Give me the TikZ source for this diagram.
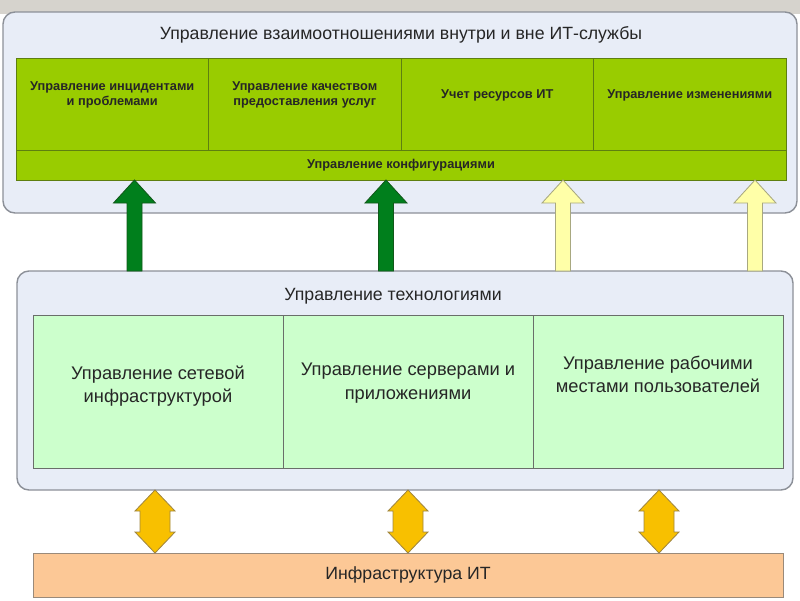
\documentclass[tikz,border=0pt]{standalone}
\usepackage{fontspec}
\setmainfont{Liberation Sans}
\usetikzlibrary{calc,positioning}
\definecolor{stripgray}{HTML}{D6D3CD}
\definecolor{framefill}{HTML}{E8EDF7}
\definecolor{framedraw}{HTML}{8C9098}
\definecolor{procfill}{HTML}{99CC00}
\definecolor{procdraw}{HTML}{5E7F10}
\definecolor{techfill}{HTML}{CCFFCC}
\definecolor{techdraw}{HTML}{6A6E6A}
\definecolor{infrafill}{HTML}{FCC896}
\definecolor{infradraw}{HTML}{9A8A7A}
\definecolor{upgreen}{HTML}{007F1C}
\definecolor{upgreendraw}{HTML}{11581A}
\definecolor{upyellow}{HTML}{FFFFA8}
\definecolor{upyellowdraw}{HTML}{A8A880}
\definecolor{bothgold}{HTML}{F8C000}
\definecolor{bothgolddraw}{HTML}{A08640}
\def\u{0.025cm}
\tikzset{
  frame/.style={draw=framedraw, fill=framefill, line width=1pt, rounded corners=12*\u,
    inner sep=0pt, outer sep=0pt},
  proc/.style={draw=procdraw, fill=procfill, line width=0.7pt, inner sep=0pt, outer sep=0pt,
    minimum width=192.5*\u, minimum height=92*\u},
  tech/.style={draw=techdraw, fill=techfill, line width=0.7pt, inner sep=0pt, outer sep=0pt,
    minimum width=250*\u, minimum height=153*\u},
  ttl/.style={font=\fontsize{12.6}{15}\selectfont, text=black!85},
  proctxt/.style={font=\fontsize{9.1}{10.2}\selectfont\bfseries, align=center, text=black!85},
  techtxt/.style={font=\fontsize{13}{16.5}\selectfont, align=center, text=black!85},
  upg/.style={draw=upgreendraw, fill=upgreen, line width=0.6pt, line join=miter},
  upy/.style={draw=upyellowdraw, fill=upyellow, line width=0.6pt, line join=miter},
  both/.style={draw=bothgolddraw, fill=bothgold, line width=0.6pt, line join=miter}
}
\newcommand{\fatup}[4]{%
  \draw[#4] ($(#2.north -| #1)+(-7.5,0)$) -- ($(#3.south -| #1)+(-7.5,23)$)
    -- ($(#3.south -| #1)+(-21,23)$) -- (#3.south -| #1)
    -- ($(#3.south -| #1)+(21,23)$) -- ($(#3.south -| #1)+(7.5,23)$)
    -- ($(#2.north -| #1)+(7.5,0)$) -- cycle;}
\newcommand{\fatboth}[4]{%
  \draw[#4] (#2.south -| #1) -- ($(#2.south -| #1)+(20,21)$) -- ($(#2.south -| #1)+(15,21)$)
    -- ($(#3.north -| #1)+(15,-21)$) -- ($(#3.north -| #1)+(20,-21)$) -- (#3.north -| #1)
    -- ($(#3.north -| #1)+(-20,-21)$) -- ($(#3.north -| #1)+(-15,-21)$)
    -- ($(#2.south -| #1)+(-15,21)$) -- ($(#2.south -| #1)+(-20,21)$) -- cycle;}
\begin{document}
\begin{tikzpicture}[x=\u, y=-\u]
\useasboundingbox (0,0) rectangle (800,600);
\fill[stripgray] (0,0) rectangle (800,14);
\node[frame, minimum width=794*\u, minimum height=201*\u] (rel) at (400,112.5) {};
\node[ttl] (reltitle) at (401,35) {Управление взаимоотношениями внутри и вне ИТ-службы};
\node[proc] (inc) at (112.25,104) {};
\node[proc, right=0pt of inc] (sla) {};
\node[proc, right=0pt of sla] (res) {};
\node[proc, right=0pt of res] (chg) {};
\node[proc, minimum width=770*\u, minimum height=30*\u, below=0pt of inc.south west, anchor=north west] (cfg) {};
\node[proctxt] at ([yshift=9*\u]inc.center) {Управление инцидентами\\и проблемами};
\node[proctxt] at ([yshift=9*\u]sla.center) {Управление качеством\\предоставления услуг};
\node[proctxt] at ([yshift=9*\u]res.center) {Учет ресурсов ИТ};
\node[proctxt] at ([yshift=9*\u]chg.center) {Управление изменениями};
\node[proctxt] at (cfg.center) {Управление конфигурациями};
\node[frame, minimum width=776*\u, minimum height=219*\u] (techfr) at (405,380.5) {};
\node[ttl] (techtitle) at (393,296) {Управление технологиями};
\node[tech] (net) at (158,392) {};
\node[tech, right=0pt of net] (srv) {};
\node[tech, right=0pt of srv] (ws) {};
\node[techtxt] at ([yshift=6*\u]net.center) {Управление сетевой\\инфраструктурой};
\node[techtxt] at ([yshift=9*\u]srv.center) {Управление серверами и\\приложениями};
\node[techtxt] at ([yshift=18*\u]ws.center) {Управление рабочими\\местами пользователей};
\node[draw=infradraw, fill=infrafill, line width=0.7pt, minimum width=750*\u, minimum height=44*\u,
  inner sep=0pt, outer sep=0pt, ttl] (infra) at (408,575) {Инфраструктура ИТ};
\coordinate (a1) at (134.5,0);
\coordinate (a2) at (386,0);
\coordinate (a3) at (563,0);
\coordinate (a4) at (755,0);
\fatup{a1}{techfr}{cfg}{upg}
\fatup{a2}{techfr}{cfg}{upg}
\fatup{a3}{techfr}{cfg}{upy}
\fatup{a4}{techfr}{cfg}{upy}
\coordinate (b1) at (155,0);
\coordinate (b2) at (408,0);
\coordinate (b3) at (659,0);
\fatboth{b1}{techfr}{infra}{both}
\fatboth{b2}{techfr}{infra}{both}
\fatboth{b3}{techfr}{infra}{both}
\end{tikzpicture}
\end{document}
